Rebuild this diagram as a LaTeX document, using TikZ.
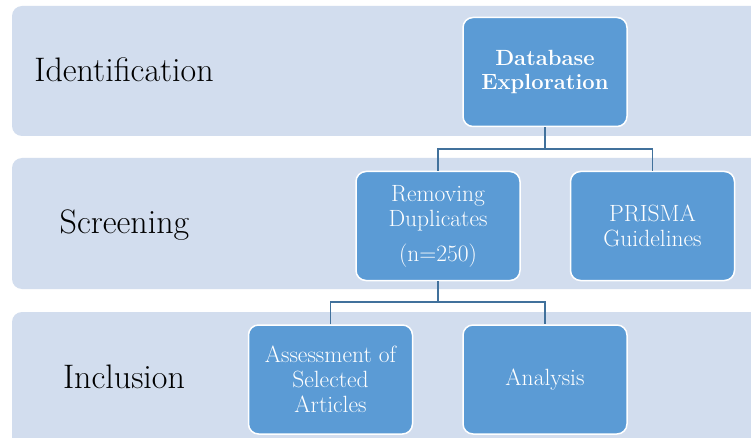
\documentclass[tikz,border=0pt]{standalone}
\definecolor{bandc}{HTML}{D2DDEE}
\definecolor{boxc}{HTML}{5B9BD5}
\definecolor{linec}{HTML}{41719C}
\begin{document}
\begin{tikzpicture}[x=1pt,y=-1pt,
  band/.style={fill=bandc,rounded corners=10pt},
  stagelbl/.style={font=\fontsize{34}{36}\selectfont,text=black,inner sep=0pt},
  stepbox/.style={draw=white,line width=1.5pt,fill=boxc,rounded corners=10pt,
    minimum width=164pt,minimum height=109pt,inner sep=0pt,text=white,align=center,
    font=\fontsize{23.5}{25}\selectfont},
  conn/.style={draw=linec,line width=1.3pt}]
\clip (0,0) rectangle (751,438);
\fill[white] (0,0) rectangle (751,438);
% bands
\path[band] (12,6) rectangle (780,136);
\path[band] (12,158) rectangle (780,289);
\path[band] (12,312) rectangle (780,470);
% stage labels
\node[stagelbl] (lid) at (124,70) {Identification};
\node[stagelbl] (lsc) at (124.5,225) {Screening};
\node[stagelbl] (lin) at (124,377) {Inclusion};
% boxes
\node[stepbox,font=\fontsize{22}{24}\selectfont\bfseries] (db) at (545,72) {Database\\Exploration};
\node[stepbox] (rd) at (438,226) {Removing\\Duplicates\\[10pt](n=250)};
\node[stepbox] (pg) at (652.5,226) {PRISMA\\Guidelines};
\node[stepbox] (as) at (330.5,379.5) {Assessment of\\Selected\\Articles};
\node[stepbox] (an) at (545,379.5) {Analysis};
% connectors
\coordinate (j1) at (545,149);
\coordinate (j2) at (438,302);
\draw[conn] (db.south) -- (j1);
\draw[conn] (rd.north) |- (j1) -| (pg.north);
\draw[conn] (rd.south) -- (j2);
\draw[conn] (as.north) |- (j2) -| (an.north);
\end{tikzpicture}
\end{document}
